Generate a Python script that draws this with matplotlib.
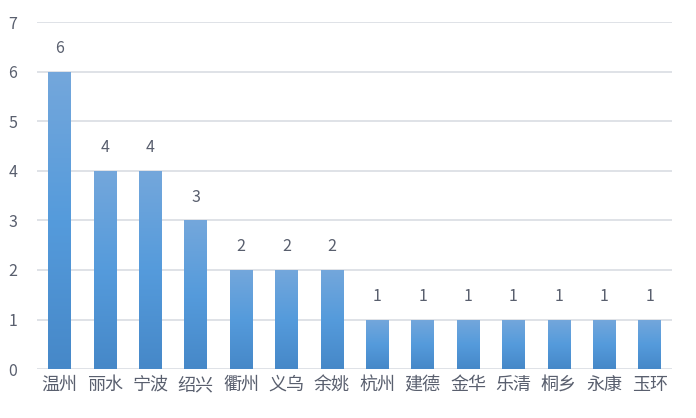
import numpy as np
import matplotlib
matplotlib.use("Agg")
import matplotlib.pyplot as plt
from matplotlib.colors import LinearSegmentedColormap

plt.rcParams['font.family'] = ['Noto Sans CJK SC', 'DejaVu Sans']
plt.rcParams['font.weight'] = 'light'

cities = ['温州', '丽水', '宁波', '绍兴', '衢州', '义乌', '余姚',
          '杭州', '建德', '金华', '乐清', '桐乡', '永康', '玉环']
counts = [6, 4, 4, 3, 2, 2, 2, 1, 1, 1, 1, 1, 1, 1]

text_c = '#595f6e'
grid_c = '#d9dde3'

fig = plt.figure(figsize=(6.96, 4.18), dpi=100)
ax = fig.add_axes([0.053, 0.117, 0.913, 0.830])

x = np.arange(len(cities))
bars = ax.bar(x, counts, width=0.5, color='none', zorder=3)

# vertical gradient in every bar: light top, darker bottom
cmap = LinearSegmentedColormap.from_list(
    'bar', ['#4688c8', '#559bdc', '#74a7db'])
grad = np.linspace(0, 1, 256).reshape(-1, 1)
for b in bars:
    x0, w, h = b.get_x(), b.get_width(), b.get_height()
    im = ax.imshow(grad, cmap=cmap, aspect='auto', origin='lower',
                   extent=[x0, x0 + w, 0, h], zorder=3)
    im.set_clip_path(b)
    ax.text(x0 + w / 2, h + 0.3, str(h), ha='center', va='bottom',
            fontsize=11.5, color=text_c)

ax.set_xlim(-0.5, len(cities) - 0.5)
ax.set_ylim(0, 7)
ax.set_yticks(range(8))
ax.set_xticks(x)
ax.set_xticklabels(cities, fontsize=13, color=text_c)
ax.tick_params(axis='y', labelsize=11.5, labelcolor=text_c, length=0, pad=14)
ax.tick_params(axis='x', length=0, pad=5)
ax.grid(axis='y', color=grid_c, lw=1.2, zorder=0)
for s in ax.spines.values():
    s.set_visible(False)

fig.savefig('out.png', dpi=100)
